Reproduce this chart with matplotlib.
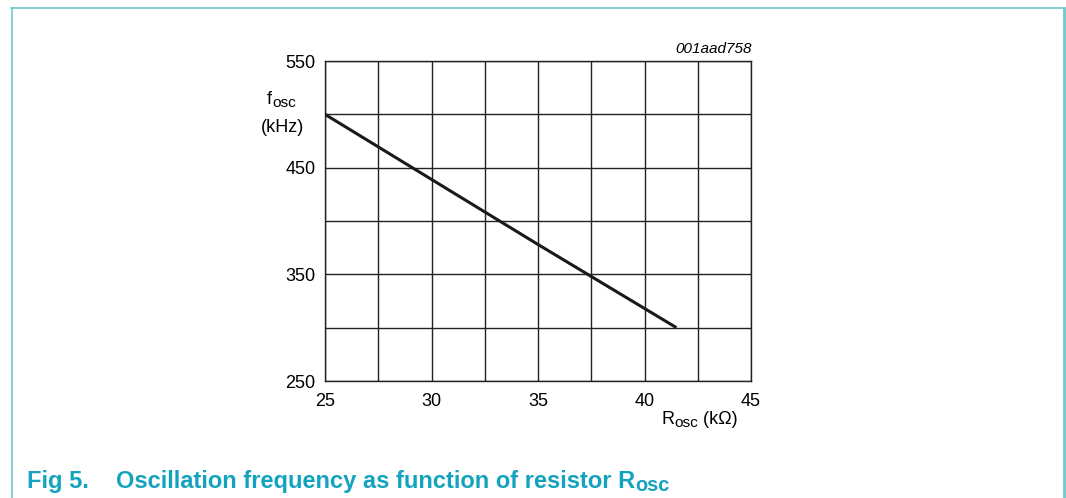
import matplotlib
matplotlib.use("Agg")
import matplotlib.pyplot as plt
from matplotlib.lines import Line2D

# Data
r_osc = [25, 30, 35, 41.5]          # kOhm
f_osc = [500, 439, 378, 300]        # kHz
x_ticks = [25, 30, 35, 40, 45]
y_ticks = [250, 350, 450, 550]
x_grid = [25 + 2.5 * i for i in range(9)]
y_grid = [250 + 50 * i for i in range(7)]

plt.rcParams['font.family'] = ['Liberation Sans', 'DejaVu Sans']

W, H = 1066, 498
fig = plt.figure(figsize=(W / 100, H / 100), dpi=100)
renderer = fig.canvas.get_renderer()


def pieces(x_px, y_px, parts, size, ha='left', sub_scale=0.85, sub_drop=0.25, **kw):
    """parts: list of (text, is_sub). Positions in pixel coords from top-left."""
    widths = []
    for txt, sub in parts:
        s = size * sub_scale if sub else size
        t = fig.text(0, 0, txt, fontsize=s, **kw)
        bb = t.get_window_extent(renderer)
        widths.append(bb.width)
        t.remove()
    total = sum(widths)
    if ha == 'right':
        x0 = x_px - total
    elif ha == 'center':
        x0 = x_px - total / 2
    else:
        x0 = x_px
    x = x0
    for (txt, sub), w in zip(parts, widths):
        s = size * sub_scale if sub else size
        dy = size * sub_drop if sub else 0
        fig.text(x / W, 1 - (y_px + dy) / H, txt, fontsize=s, ha='left', va='baseline', **kw)
        x += w


ax = fig.add_axes([325 / W, 1 - 381 / H, 426 / W, 320 / H])
ax.set_xlim(25, 45)
ax.set_ylim(250, 550)
for xv in x_grid:
    ax.axvline(xv, color='#222222', lw=1.0, zorder=1)
for yv in y_grid:
    ax.axhline(yv, color='#222222', lw=1.0, zorder=1)
for s in ax.spines.values():
    s.set_color('#222222')
    s.set_linewidth(1.0)
ax.plot(r_osc, f_osc, color='#1a1a1a', lw=2.2, solid_capstyle='butt', zorder=3)
ax.set_xticks(x_ticks)
ax.set_yticks(y_ticks)
ax.tick_params(length=0, labelsize=13, colors='#000000')
ax.tick_params(axis='x', pad=9)
ax.tick_params(axis='y', pad=7)

# Axis labels
pieces(267, 104, [('f', False), ('osc', True)], 13, sub_drop=0.2, color='#000000')
fig.text(282 / W, 1 - 132 / H, '(kHz)', ha='center', va='baseline', fontsize=13, color='#000000')
pieces(738, 424, [('R', False), ('osc', True), (' (k\u03a9)', False)], 13, ha='right', sub_drop=0.2,
       color='#000000')
fig.text(752 / W, 1 - 53 / H, '001aad758', ha='right', va='baseline', fontsize=11, style='italic',
         color='#000000')

# Caption
cap_color = '#13a3bf'
fig.text(27 / W, 1 - 488 / H, 'Fig 5.', ha='left', va='baseline', fontsize=17, fontweight='bold',
         color=cap_color)
pieces(116, 488, [('Oscillation frequency as function of resistor R', False), ('osc', True)], 17,
       sub_drop=0.2, fontweight='bold', color=cap_color)

# Frame
fc = '#6ec8d2'
fig.add_artist(Line2D([11 / W, 1064 / W], [1 - 8 / H, 1 - 8 / H], color=fc, lw=1.2, transform=fig.transFigure))
fig.add_artist(Line2D([11.5 / W, 11.5 / W], [0, 1 - 8 / H], color=fc, lw=1.2, transform=fig.transFigure))
fig.add_artist(Line2D([1063.5 / W, 1063.5 / W], [0, 1 - 8 / H], color=fc, lw=2.0, transform=fig.transFigure))

fig.savefig('out.png', dpi=100)
